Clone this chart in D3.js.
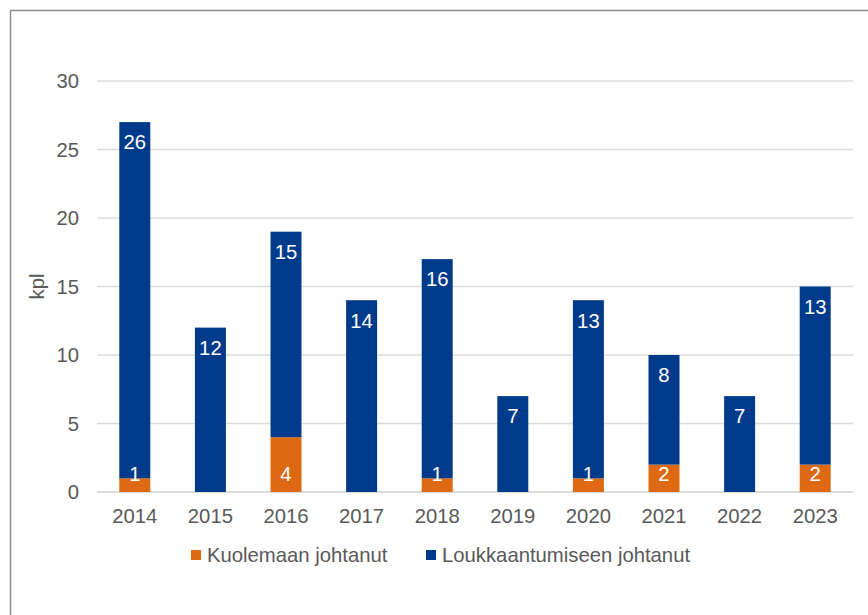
<!DOCTYPE html>
<html>
<head>
<meta charset="utf-8">
<script src="https://cdn.jsdelivr.net/npm/d3@7"></script>
<style>
  body { margin: 0; background: #fff; }
  svg { display: block; font-family: "Liberation Sans", Arial, sans-serif; }
</style>
</head>
<body>
<svg id="chart" width="868" height="615"></svg>
<script>
// data
const years = ["2014", "2015", "2016", "2017", "2018", "2019", "2020", "2021", "2022", "2023"];
const kuolemaan = [1, 0, 4, 0, 1, 0, 1, 2, 0, 2];
const loukkaantumiseen = [26, 12, 15, 14, 16, 7, 13, 8, 7, 13];
const yTicks = [0, 5, 10, 15, 20, 25, 30];
const seriesNames = ["Kuolemaan johtanut", "Loukkaantumiseen johtanut"];
const colors = ["#dd6a12", "#003a8a"];

const svg = d3.select("#chart");
const textColor = "#595959";
const fs = 20.3;

// frame
svg.append("path")
    .attr("d", "M10.5,615 V10.5 H868")
    .attr("fill", "none")
    .attr("stroke", "#8a8a8a")
    .attr("stroke-width", 1.5);

const x = d3.scaleBand().domain(years).range([97, 853]).paddingInner(0.59).paddingOuter(0.295);
const y = d3.scaleLinear().domain([0, 30]).range([492, 81]);

// grid
svg.append("g").selectAll("line").data(yTicks).join("line")
    .attr("x1", 97).attr("x2", 853)
    .attr("y1", d => y(d)).attr("y2", d => y(d))
    .attr("stroke", d => d === 0 ? "#d0d0d0" : "#dcdcdc")
    .attr("stroke-width", 1.5);

// y axis labels
svg.append("g").selectAll("text").data(yTicks).join("text")
    .attr("x", 79).attr("y", d => y(d))
    .attr("dy", "0.36em")
    .attr("text-anchor", "end")
    .attr("fill", textColor)
    .attr("font-size", fs)
    .text(d => d);

svg.append("text")
    .attr("transform", `translate(44,${y(15)}) rotate(-90)`)
    .attr("text-anchor", "middle")
    .attr("fill", textColor)
    .attr("font-size", fs)
    .text("kpl");

// x axis labels
svg.append("g").selectAll("text").data(years).join("text")
    .attr("x", d => x(d) + x.bandwidth() / 2)
    .attr("y", 523)
    .attr("text-anchor", "middle")
    .attr("fill", textColor)
    .attr("font-size", fs)
    .text(d => d);

// stacked bars
const rows = years.map((yr, i) => ({ year: yr, k: kuolemaan[i], l: loukkaantumiseen[i] }));
const stack = d3.stack().keys(["k", "l"])(rows);

const layers = svg.append("g").selectAll("g").data(stack).join("g")
    .attr("fill", (d, i) => colors[i]);

layers.selectAll("rect").data(d => d).join("rect")
    .attr("x", d => x(d.data.year))
    .attr("width", x.bandwidth())
    .attr("y", d => y(d[1]))
    .attr("height", d => y(d[0]) - y(d[1]));

// value labels
const labels = svg.append("g")
    .attr("fill", "#fff")
    .attr("font-size", fs)
    .attr("text-anchor", "middle");

labels.selectAll("text.k").data(stack[0].filter(d => d.data.k > 0)).join("text")
    .attr("class", "k")
    .attr("x", d => x(d.data.year) + x.bandwidth() / 2)
    .attr("y", y(0) - 18)
    .attr("dy", "0.36em")
    .text(d => d.data.k);

labels.selectAll("text.l").data(stack[1]).join("text")
    .attr("class", "l")
    .attr("x", d => x(d.data.year) + x.bandwidth() / 2)
    .attr("y", d => y(d[1]) + 20)
    .attr("dy", "0.36em")
    .text(d => d.data.l);

// legend
const legend = svg.append("g");
const legendItems = [{ name: seriesNames[0], x: 191 }, { name: seriesNames[1], x: 426 }];
legendItems.forEach((it, i) => {
    legend.append("rect")
        .attr("x", it.x).attr("y", 550)
        .attr("width", 10).attr("height", 10)
        .attr("fill", colors[i]);
    legend.append("text")
        .attr("x", it.x + 16).attr("y", 555)
        .attr("dy", "0.36em")
        .attr("fill", textColor)
        .attr("font-size", fs)
        .text(it.name);
});
</script>
</body>
</html>
